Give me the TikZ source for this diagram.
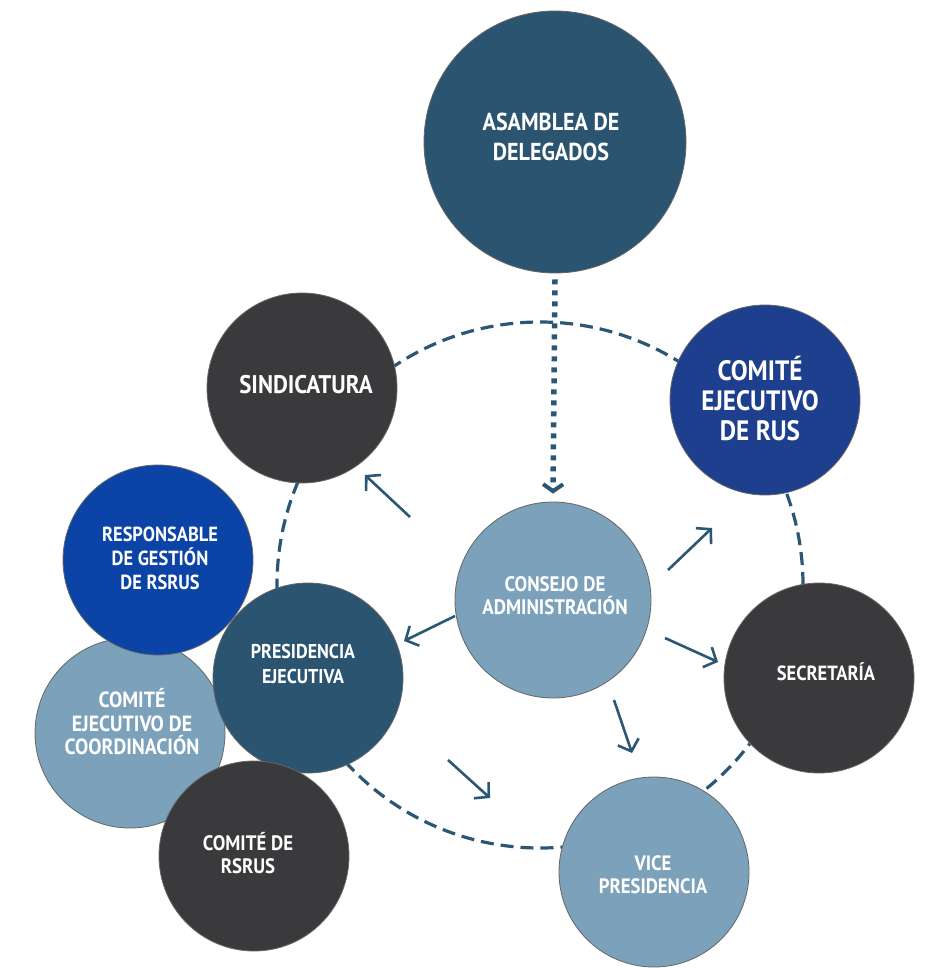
\documentclass[tikz,border=0pt]{standalone}
\usepackage{fontspec}
\newfontfamily\lab{PT Sans}[FakeStretch=0.9]
\usetikzlibrary{arrows.meta}
\definecolor{teal}{HTML}{2A5470}
\definecolor{greyc}{HTML}{3A3A3C}
\definecolor{navy}{HTML}{1E3F8E}
\definecolor{royal}{HTML}{0B44A6}
\definecolor{lightb}{HTML}{7BA1BB}
\definecolor{linec}{HTML}{2B5775}
\newcommand{\fs}[2]{\lab\bfseries\fontsize{#1}{#2}\selectfont}
\tikzset{
  bub/.style={circle, draw=black!60, line width=0.8pt, inner sep=0pt, minimum size=190pt},
  txt/.style={text=white, align=center, inner sep=0pt},
  ring/.style={draw=linec, line width=3.2pt, dash pattern=on 13pt off 7pt},
  arr/.style={draw=linec, line width=2.6pt, -{Straight Barb[length=10pt,width=22pt]}},
  dotarr/.style={draw=linec, line width=5.5pt, dash pattern=on 5pt off 6pt,
     -{Straight Barb[length=7pt,width=20pt,line width=4pt]}}
}
\begin{document}
\begin{tikzpicture}[x=1pt,y=-1pt]
\useasboundingbox[fill=white] (0,0) rectangle (930,968);
% dashed ring
\draw[ring] (540,585) circle[radius=263pt];
% circles
\node[bub, fill=teal, minimum size=262pt] (asamblea) at (555,142) {};
\node[bub, fill=greyc] (sind) at (302,388) {};
\node[bub, fill=navy] (rus) at (765,400) {};
\node[bub, fill=lightb, minimum size=196pt] (consejo) at (553,600) {};
\node[bub, fill=greyc] (secr) at (819,678) {};
\node[bub, fill=lightb] (vice) at (654,872) {};
\node[bub, fill=lightb] (coord) at (130,733) {};
\node[bub, fill=royal] (resp) at (158,560) {};
\node[bub, fill=teal] (pres) at (308,678) {};
\node[bub, fill=greyc] (rsrus) at (254,856) {};
% texts
\node[txt, font=\fs{24.5}{30}] (asamblea-t) at (551,137) {ASAMBLEA DE\\DELEGADOS};
\node[txt, font=\fs{25.5}{30}] (sind-t) at (306,385) {SINDICATURA};
\node[txt, font=\fs{28}{30}] (rus-t) at (760,399) {COMITÉ\\EJECUTIVO\\DE RUS};
\node[txt, font=\fs{21}{23}] (consejo-t) at (555,596) {CONSEJO DE\\ADMINISTRACIÓN};
\node[txt, font=\fs{20.5}{24}] (secr-t) at (826,672) {SECRETARÍA};
\node[txt, font=\fs{20.8}{23}] (vice-t) at (653,875) {VICE\\PRESIDENCIA};
\node[txt, font=\fs{22}{23.5}] (coord-t) at (132,722) {COMITÉ\\EJECUTIVO DE\\COORDINACIÓN};
\node[txt, font=\fs{20.4}{24}] (resp-t) at (160,558) {RESPONSABLE\\DE GESTIÓN\\DE RSRUS};
\node[txt, font=\fs{20}{25}] (pres-t) at (303,664) {PRESIDENCIA\\EJECUTIVA};
\node[txt, font=\fs{20.9}{23.5}] (rsrus-t) at (248,853) {COMITÉ DE\\RSRUS};
% arrow end points
\coordinate (a1) at (410,517); \coordinate (b1) at (365,475);
\coordinate (a2) at (668,570); \coordinate (b2) at (712,528);
\coordinate (a3) at (665,638); \coordinate (b3) at (718,662);
\coordinate (a4) at (614,700); \coordinate (b4) at (632,753);
\coordinate (a5) at (455,616); \coordinate (b5) at (404,641);
\coordinate (a6) at (448,760); \coordinate (b6) at (490,798);
\draw[arr] (a1) -- (b1);
\draw[arr] (a2) -- (b2);
\draw[arr] (a3) -- (b3);
\draw[arr] (a4) -- (b4);
\draw[arr] (a5) -- (b5);
\draw[arr] (a6) -- (b6);
\draw[dotarr] ([yshift=-6pt]asamblea.south) -- ([yshift=8pt]consejo.north);
\end{tikzpicture}
\end{document}
